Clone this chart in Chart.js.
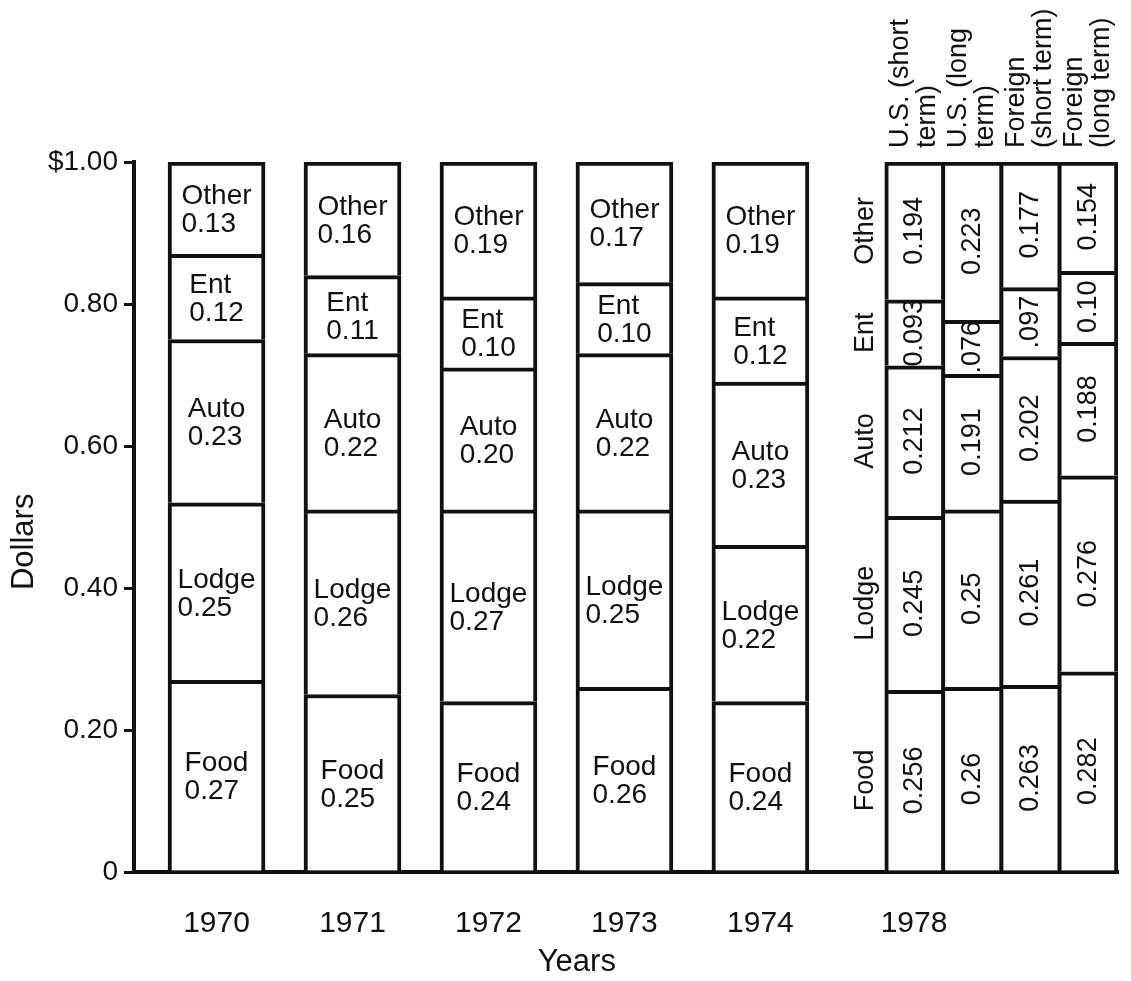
<!DOCTYPE html>
<html>
<head>
<meta charset="utf-8">
<script src="https://cdn.jsdelivr.net/npm/chart.js@4.4.1/dist/chart.umd.min.js"></script>
<style>
  html, body { margin: 0; padding: 0; background: #fff; }
  #wrap { width: 1131px; height: 981px; }
</style>
</head>
<body>
<div id="wrap"><canvas id="chart"></canvas></div>
<script>
// share of each travel dollar, 1970-1974
const years = ['1970', '1971', '1972', '1973', '1974'];
const segments = ['Food', 'Lodge', 'Auto', 'Ent', 'Other'];
const food = [0.27, 0.25, 0.24, 0.26, 0.24];
const lodge = [0.25, 0.26, 0.27, 0.25, 0.22];
const auto = [0.23, 0.22, 0.20, 0.22, 0.23];
const ent = [0.12, 0.11, 0.10, 0.10, 0.12];
const other = [0.13, 0.16, 0.19, 0.17, 0.19];

// 1978, split by traveller type (kept as printed)
const year1978 = '1978';
const travellers = [['U.S. (short', 'term)'], ['U.S. (long', 'term)'], ['Foreign', '(short term)'], ['Foreign', '(long term)']];
const food78 = ['0.256', '0.26', '0.263', '0.282'];
const lodge78 = ['0.245', '0.25', '0.261', '0.276'];
const auto78 = ['0.212', '0.191', '0.202', '0.188'];
const ent78 = ['0.093', '.076', '.097', '0.10'];
const other78 = ['0.194', '0.223', '0.177', '0.154'];

const yTicks = [0, 0.2, 0.4, 0.6, 0.8, 1.0];

const FONT = '"Liberation Sans", Arial, Helvetica, sans-serif';
const INK = '#111';

// x layout: one unit per year bar, the 1978 bars packed tighter
const SUB_START = 5.13, SUB_STEP = 0.428;
const yearPos = years.map((_, i) => i);
const subPos = travellers.map((_, i) => SUB_START + i * SUB_STEP);

const mainSeries = [food, lodge, auto, ent, other];
const subSeries = [food78, lodge78, auto78, ent78, other78];

const datasets = [];
segments.forEach((name, s) => {
    datasets.push({
        label: name,
        data: mainSeries[s].map((v, i) => ({ x: yearPos[i], y: v })),
        backgroundColor: '#fff',
        borderColor: INK,
        barThickness: 97,
        borderWidth: 4
    });
});
segments.forEach((name, s) => {
    datasets.push({
        label: name,
        sub: true,
        data: subSeries[s].map((t, i) => ({ x: subPos[i], y: Number(t), text: t })),
        backgroundColor: '#fff',
        borderColor: INK,
        barThickness: 58.5,
        borderWidth: ctx => ({
            top: 4,
            left: ctx.dataIndex === 0 ? 4 : 2.5,
            right: ctx.dataIndex === travellers.length - 1 ? 4 : 2.5,
            bottom: 0
        })
    });
});

const textPlugin = {
    id: 'barText',
    afterDatasetsDraw(chart) {
        const ctx = chart.ctx;
        const area = chart.chartArea;
        ctx.save();
        ctx.fillStyle = INK;

        chart.data.datasets.forEach((ds, di) => {
            const meta = chart.getDatasetMeta(di);
            meta.data.forEach((bar, j) => {
                const cy = (bar.y + bar.base) / 2;
                if (ds.sub) {
                    ctx.font = '27px ' + FONT;
                    ctx.save();
                    ctx.translate(bar.x, cy);
                    ctx.rotate(-Math.PI / 2);
                    ctx.textAlign = 'center';
                    ctx.textBaseline = 'middle';
                    ctx.fillText(ds.data[j].text, 0, 0);
                    ctx.restore();
                    // segment names to the left of the 1978 group
                    if (j === 0) {
                        ctx.save();
                        ctx.translate(bar.x - bar.width / 2 - 19, cy);
                        ctx.rotate(-Math.PI / 2);
                        ctx.textAlign = 'center';
                        ctx.textBaseline = 'middle';
                        ctx.fillText(ds.label, 0, 0);
                        ctx.restore();
                    }
                    // column headers above the top segment
                    if (ds.label === 'Other') {
                        travellers[j].forEach((line, k) => {
                            ctx.save();
                            ctx.translate(bar.x - 14 + k * 27, bar.y - 14);
                            ctx.rotate(-Math.PI / 2);
                            ctx.textAlign = 'left';
                            ctx.textBaseline = 'middle';
                            ctx.fillText(line, 0, 0);
                            ctx.restore();
                        });
                    }
                } else {
                    ctx.font = '28px ' + FONT;
                    const lines = [ds.label, ds.data[j].y.toFixed(2)];
                    const w = Math.max(...lines.map(l => ctx.measureText(l).width));
                    const x0 = bar.x - w / 2;
                    ctx.textAlign = 'left';
                    ctx.textBaseline = 'alphabetic';
                    ctx.fillText(lines[0], x0, cy - 4);
                    ctx.fillText(lines[1], x0, cy + 24);
                }
            });
        });

        // axis titles
        const xs = chart.scales.x, ys = chart.scales.y;
        ctx.font = '31px ' + FONT;
        ctx.textAlign = 'center';
        ctx.textBaseline = 'middle';
        ctx.fillText('Years', xs.getPixelForValue(2.65), area.bottom + 90);
        ctx.save();
        ctx.translate(24, ys.getPixelForValue(0.465));
        ctx.rotate(-Math.PI / 2);
        ctx.fillText('Dollars', 0, 0);
        ctx.restore();

        ctx.restore();
    }
};

new Chart(document.getElementById('chart'), {
    type: 'bar',
    data: { datasets },
    options: {
        responsive: true,
        maintainAspectRatio: false,
        animation: false,
        layout: { padding: { top: 162, right: 13, left: 0, bottom: 0 } },
        datasets: {
            bar: { grouped: false, borderSkipped: 'start' }
        },
        plugins: {
            colors: { enabled: false },
            legend: { display: false },
            tooltip: { enabled: false }
        },
        scales: {
            x: {
                type: 'linear',
                stacked: true,
                offset: false,
                min: -0.607,
                max: 6.63,
                z: 1,
                grid: { display: false },
                border: { display: true, color: INK, width: 4 },
                afterBuildTicks: s => { s.ticks = [...yearPos, SUB_START].map(v => ({ value: v })); },
                afterFit: s => { s.height = 109; },
                ticks: {
                    autoSkip: false,
                    maxRotation: 0,
                    padding: 26,
                    color: INK,
                    font: { family: FONT, size: 30 },
                    callback: (v, i) => [...years, year1978][i]
                }
            },
            y: {
                stacked: true,
                min: 0,
                max: 1,
                grid: {
                    display: true,
                    drawOnChartArea: false,
                    drawTicks: true,
                    tickLength: 10,
                    color: INK,
                    lineWidth: 3
                },
                border: { display: true, color: INK, width: 4 },
                afterBuildTicks: s => { s.ticks = yTicks.map(v => ({ value: v })); },
                afterFit: s => { s.width = 134; },
                ticks: {
                    padding: 6,
                    color: INK,
                    font: { family: FONT, size: 28 },
                    callback: v => v === 0 ? '0' : (v === 1 ? '$1.00' : v.toFixed(2))
                }
            }
        }
    },
    plugins: [textPlugin]
});
</script>
</body>
</html>
